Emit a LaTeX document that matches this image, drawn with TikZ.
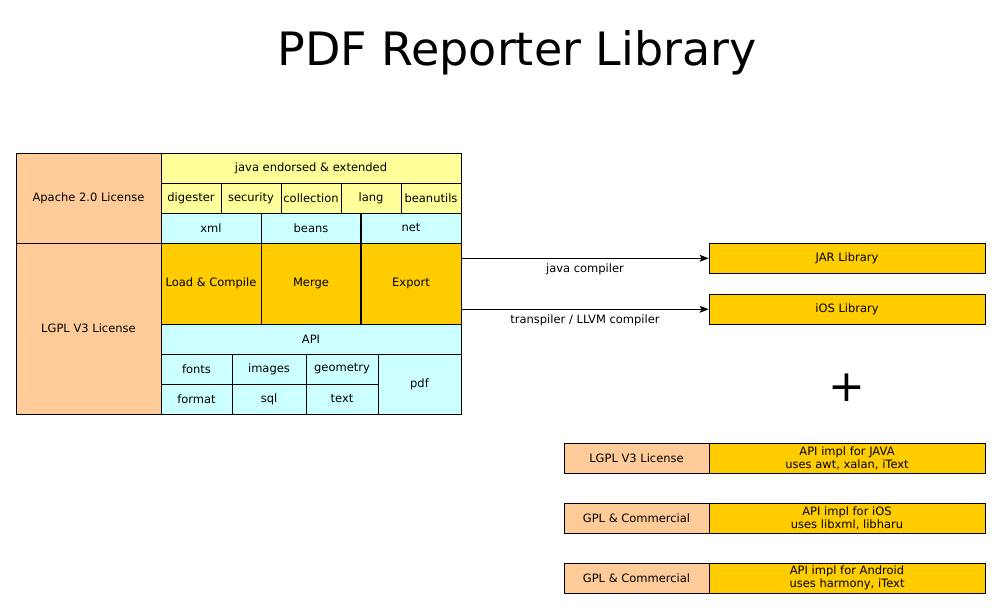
\documentclass[tikz,border=0pt]{standalone}
\usepackage{fontspec}
\setmainfont{DejaVu Sans}
\usepackage{xcolor}
\usetikzlibrary{arrows.meta, positioning, calc}
\definecolor{peach}{HTML}{FFCC99}
\definecolor{paleyellow}{HTML}{FFFF99}
\definecolor{palecyan}{HTML}{CCFFFF}
\definecolor{gold}{HTML}{FFCC00}

\begin{document}
\begin{tikzpicture}[x=1pt, y=-1pt,
    every node/.style={inner sep=0pt, font=\fontsize{11.5}{13}\selectfont},
    cellbox/.style args={#1x#2}{draw, line width=0.8pt, minimum width=#1pt, minimum height=#2pt, align=center},
    arr/.style={-{Stealth[length=9pt, width=7pt, inset=2pt]}, line width=0.8pt}]
    \useasboundingbox (0,0) rectangle (1000,610);

    \node[font=\fontsize{46}{46}\selectfont, anchor=base] (title) at (517,65) {PDF Reporter Library};

    % licenses
    \node[cellbox=145x90, fill=peach] (apache) at (88.5,198) {Apache 2.0 License};
    \node[cellbox=145x171, fill=peach] (lgpl) at (88.5,328.5) {LGPL V3 License};

    % apache part
    \node[cellbox=300x30, fill=paleyellow] (endorsed) at (311,168) {java endorsed \& extended};
    \node[cellbox=60x30, fill=paleyellow] (digester) at (191,198) {digester};
    \node[cellbox=60x30, fill=paleyellow] (security) at (251,198) {security};
    \node[cellbox=60x30, fill=paleyellow] (collection) at (311,198) {collection};
    \node[cellbox=60x30, fill=paleyellow] (lang) at (371,198) {lang};
    \node[cellbox=60x30, fill=paleyellow] (beanutils) at (431,198) {beanutils};
    \node[cellbox=100x30, fill=palecyan] (xml) at (211,228) {xml};
    \node[cellbox=100x30, fill=palecyan] (beans) at (311,228) {beans};
    \node[cellbox=100x30, fill=palecyan] (net) at (411,228) {net};

    % lgpl part
    \node[cellbox=100x81, fill=gold] (load) at (211,283.5) {Load \& Compile};
    \node[cellbox=100x81, fill=gold] (merge) at (311,283.5) {Merge};
    \node[cellbox=100x81, fill=gold] (export) at (411,283.5) {Export};
    \node[cellbox=300x30, fill=palecyan] (api) at (311,339) {API};
    \node[cellbox=71x30, fill=palecyan] (fonts) at (196.5,369) {fonts};
    \node[cellbox=74x30, fill=palecyan] (images) at (269,369) {images};
    \node[cellbox=72x30, fill=palecyan] (geometry) at (342,369) {geometry};
    \node[cellbox=71x30, fill=palecyan] (format) at (196.5,399) {format};
    \node[cellbox=74x30, fill=palecyan] (sql) at (269,399) {sql};
    \node[cellbox=72x30, fill=palecyan] (text) at (342,399) {text};
    \node[cellbox=83x60, fill=palecyan] (pdf) at (419.5,384) {pdf};
    \draw[line width=1.7pt] (net.north west) -- (export.south west);

    % outputs
    \node[cellbox=276x30, fill=gold] (jar) at (847,258.3) {JAR Library};
    \node[cellbox=276x30, fill=gold] (ios) at (847,309.3) {iOS Library};
    \draw[arr] (export.east |- jar.west) -- node[below=5pt] (javac) {java compiler} (jar.west);
    \draw[arr] (export.east |- ios.west) -- node[below=5pt] (llvm) {transpiler / LLVM compiler} (ios.west);

    \node[font=\fontsize{44}{44}\selectfont] (plus) at (847,388) {+};

    % implementations
    \node[cellbox=145x30, fill=peach] (lic1) at (636.5,458) {LGPL V3 License};
    \node[cellbox=276x30, fill=gold] (impl1) at (847,458) {API impl for JAVA\\uses awt, xalan, iText};
    \node[cellbox=145x30, fill=peach] (lic2) at (636.5,518) {GPL \& Commercial};
    \node[cellbox=276x30, fill=gold] (impl2) at (847,518) {API impl for iOS\\uses libxml, libharu};
    \node[cellbox=145x30, fill=peach] (lic3) at (636.5,578) {GPL \& Commercial};
    \node[cellbox=276x30, fill=gold] (impl3) at (847,578) {API impl for Android\\uses harmony, iText};
\end{tikzpicture}
\end{document}
